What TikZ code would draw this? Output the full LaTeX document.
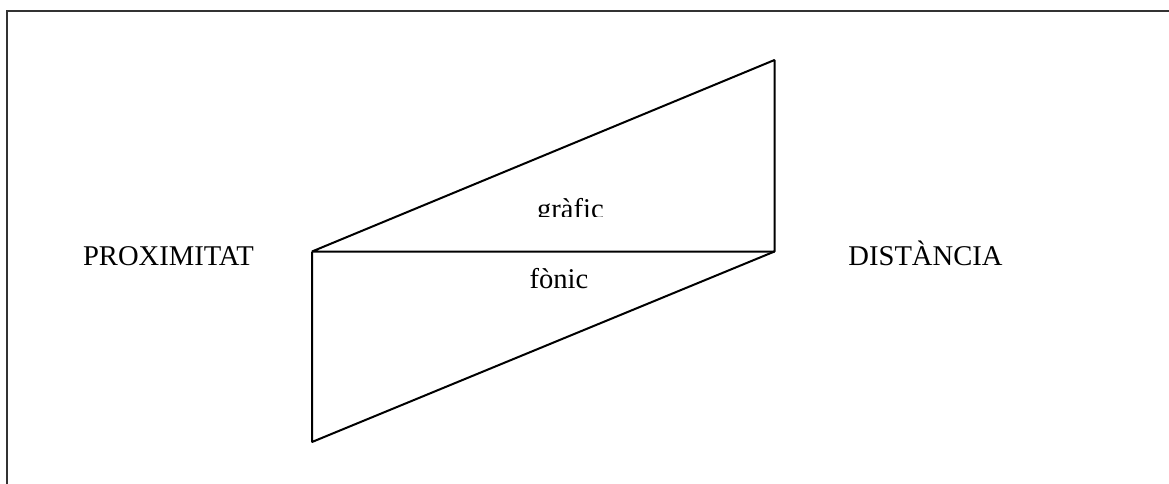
\documentclass[tikz,border=0pt]{standalone}
\usepackage{fontspec}
\setmainfont{Liberation Serif}
\usetikzlibrary{positioning,calc}

\begin{document}
\begin{tikzpicture}[
  x=0.5pt, y=-0.5pt,
  frame/.style={draw=black!80, line width=1pt},
  edge/.style={draw, line width=1pt, line join=bevel},
  lbl/.style={font=\fontsize{14.3}{16}\selectfont, anchor=base, inner sep=0pt}
]

\useasboundingbox (0,0) rectangle (1169,483);

% outer frame, cut by the page edge on right and bottom
\draw[frame] (6.5,490) |- (1175,11);

% corners of the two triangles
\coordinate (pl) at (312,251.5);
\coordinate (pr) at (774.5,251.5);
\coordinate (tr) at (774.5,60);
\coordinate (bl) at (312,442);

\draw[edge] (pl) -- (tr) -- (pr) -- cycle;
\draw[edge] (pl) -- (bl) -- (pr);

\node[lbl] (prox) at (168.5,265) {PROXIMITAT};
\node[lbl] (dist) at (925.5,265) {DISTÀNCIA};
\node[lbl] (fon) at (559,288) {fònic};

\begin{scope}
  \clip (500,150) rectangle (650,216.5);
  \node[lbl] (graf) at (570.5,218) {gràfic};
\end{scope}

\end{tikzpicture}
\end{document}
